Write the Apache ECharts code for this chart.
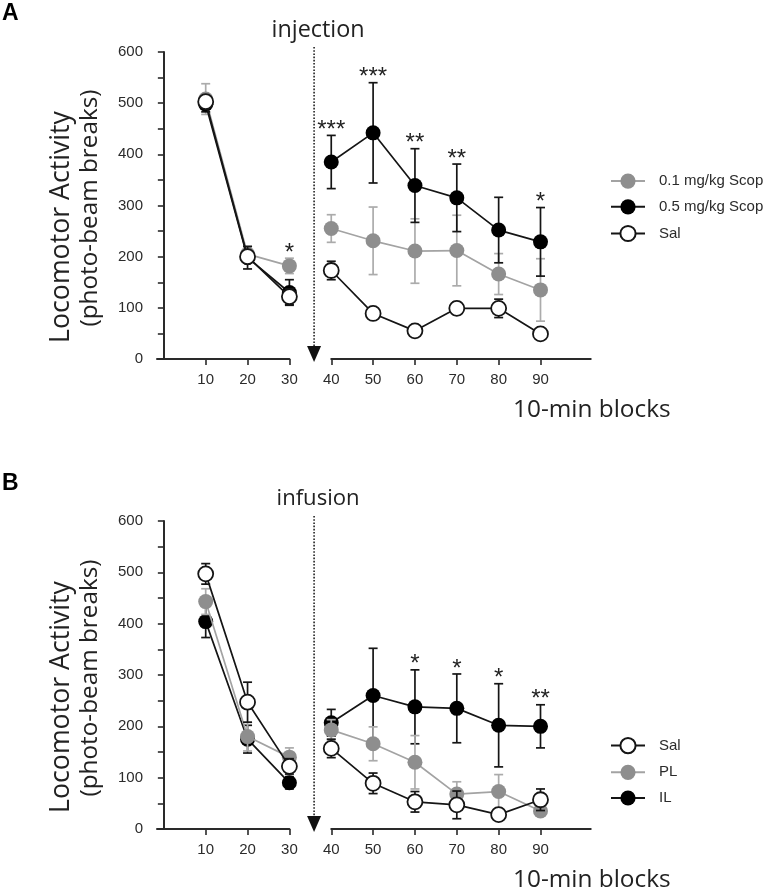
<!DOCTYPE html>
<html><head><meta charset="utf-8">
<script src="https://cdn.jsdelivr.net/npm/echarts@6/dist/echarts.min.js"></script>
<style>html,body{margin:0;padding:0;background:#fff}#c{width:780px;height:889px}</style>
</head><body><div id="c"></div>
<script>
// ---------- data ----------
const blocks = [10, 20, 30, 40, 50, 60, 70, 80, 90];
const xTicksLeft = [10, 20, 30];
const xTicksRight = [40, 50, 60, 70, 80, 90];
const yTickLabels = [0, 100, 200, 300, 400, 500, 600];
const yTickMarks = [0, 50, 100, 150, 200, 250, 300, 350, 400, 450, 500, 550, 600];

// Panel A
const scop01Mean = [508, 205, 182, 255, 231, 211, 212, 166, 135];
const scop01Err  = [30, 15, 15, 27, 66, 63, 69, 40, 61];
const scop05Mean = [498, 198, 130, 385, 442, 339, 315, 252, 229];
const scop05Err  = [15, 22, 25, 52, 98, 72, 66, 64, 67];
const salAMean   = [503, 200, 122, 173, 89, 55, 99, 99, 49];
const salAErr    = [10, 10, 15, 18, 5, 5, 12, 18, 5];
const starsA     = ['', '', '*', '***', '***', '**', '**', '', '*'];
const legendA    = ['0.1 mg/kg Scop', '0.5 mg/kg Scop', 'Sal'];

// Panel B
const salBMean = [497, 247, 122, 157, 89, 53, 47, 28, 57];
const salBErr  = [20, 39, 15, 18, 20, 20, 27, 10, 21];
const plMean   = [443, 180, 140, 193, 166, 130, 68, 73, 35];
const plErr    = [25, 28, 18, 20, 33, 52, 24, 33, 10];
const ilMean   = [404, 175, 90, 207, 260, 238, 235, 202, 200];
const ilErr    = [31, 27, 12, 26, 92, 72, 67, 81, 42];
const starsB   = ['', '', '', '', '', '*', '*', '*', '**'];
const legendB  = ['Sal', 'PL', 'IL'];

const panelLabels = ['A', 'B'];
const eventLabels = ['injection', 'infusion'];
const xAxisTitle = '10-min blocks';
const yTitle1 = 'Locomotor Activity';
const yTitle2 = '(photo-beam breaks)';

// ---------- styles ----------
const STY = {
  gray:  {line: '#a3a3a3', fill: '#8e8e8e', border: '#8e8e8e', err: '#ababab', bw: 0},
  black: {line: '#151515', fill: '#000000', border: '#000000', err: '#151515', bw: 0},
  white: {line: '#151515', fill: '#ffffff', border: '#151515', err: '#151515', bw: 1.8}
};
const AX = '#2a2a2a';
const TXT = '#2b2b2b';
const SANS = 'Liberation Sans, Arial, sans-serif';
const HUM = 'Open Sans, Noto Sans, sans-serif';

const panels = [
  {top: 52, height: 307, stars: starsA, groups: [
    {name: legendA[0], mean: scop01Mean, err: scop01Err, sty: STY.gray, z: 2},
    {name: legendA[1], mean: scop05Mean, err: scop05Err, sty: STY.black, z: 4},
    {name: legendA[2], mean: salAMean, err: salAErr, sty: STY.white, z: 6}
  ]},
  {top: 521, height: 308, stars: starsB, groups: [
    {name: legendB[2], mean: ilMean, err: ilErr, sty: STY.black, z: 2},
    {name: legendB[1], mean: plMean, err: plErr, sty: STY.gray, z: 4},
    {name: legendB[0], mean: salBMean, err: salBErr, sty: STY.white, z: 6}
  ]}
];

const LEFT_X = 157, PXU = 4.185;
const X0 = 163.85; // pixel of x=0
const leftMin = (LEFT_X - X0) / PXU, leftMax = 30;
const rightMin = 40, rightMax = 102;

const grids = [], xAxes = [], yAxes = [], series = [];

function errRender(color) {
  return function (params, api) {
    const x = api.value(0), m = api.value(1), e = api.value(2);
    const t = api.coord([x, m + e]), b = api.coord([x, m - e]);
    const hw = 4.5;
    const st = {stroke: color, lineWidth: 1.7};
    return {type: 'group', children: [
      {type: 'line', shape: {x1: t[0], y1: t[1], x2: b[0], y2: b[1]}, style: st},
      {type: 'line', shape: {x1: t[0] - hw, y1: t[1], x2: t[0] + hw, y2: t[1]}, style: st},
      {type: 'line', shape: {x1: b[0] - hw, y1: b[1], x2: b[0] + hw, y2: b[1]}, style: st}
    ]};
  };
}

panels.forEach((p, pi) => {
  const gL = pi * 2, gR = pi * 2 + 1;
  grids.push({left: LEFT_X, top: p.top, width: X0 + leftMax * PXU - LEFT_X, height: p.height});
  grids.push({left: X0 + rightMin * PXU, top: p.top, width: (rightMax - rightMin) * PXU, height: p.height});
  const xCommon = {
    type: 'value', splitLine: {show: false},
    axisLine: {show: true, onZero: false, lineStyle: {color: AX, width: 2}},
    axisLabel: {fontSize: 15, color: TXT, fontFamily: SANS, margin: 13},
    axisTick: {show: true, length: 6, lineStyle: {color: AX, width: 1.6}}
  };
  xAxes.push(Object.assign({}, xCommon, {gridIndex: gL, min: leftMin, max: leftMax,
    axisLabel: Object.assign({}, xCommon.axisLabel, {customValues: xTicksLeft}),
    axisTick: Object.assign({}, xCommon.axisTick, {customValues: xTicksLeft})}));
  xAxes.push(Object.assign({}, xCommon, {gridIndex: gR, min: rightMin, max: rightMax,
    axisLabel: Object.assign({}, xCommon.axisLabel, {customValues: xTicksRight}),
    axisTick: Object.assign({}, xCommon.axisTick, {customValues: xTicksRight})}));
  yAxes.push({gridIndex: gL, type: 'value', min: 0, max: 600, splitLine: {show: false},
    axisLine: {show: true, lineStyle: {color: AX, width: 2}},
    axisTick: {show: true, length: 6, customValues: yTickMarks, lineStyle: {color: AX, width: 1.6}},
    axisLabel: {customValues: yTickLabels, fontSize: 15, color: TXT, fontFamily: SANS, margin: 14}});
  yAxes.push({gridIndex: gR, type: 'value', min: 0, max: 600, show: false});

  const segs = [{ax: gL, idx: [0, 1, 2]}, {ax: gR, idx: [3, 4, 5, 6, 7, 8]}];
  p.groups.forEach(g => {
    segs.forEach(s => {
      series.push({
        type: 'custom', name: g.name + ' err', xAxisIndex: s.ax, yAxisIndex: s.ax, z: g.z,
        renderItem: errRender(g.sty.err), clip: false, silent: true,
        encode: {x: 0, y: 1},
        data: s.idx.map(i => [blocks[i], g.mean[i], g.err[i]])
      });
      series.push({
        type: 'line', name: g.name, xAxisIndex: s.ax, yAxisIndex: s.ax, z: g.z + 1,
        symbol: 'circle', symbolSize: 15, showSymbol: true, silent: true,
        lineStyle: {color: g.sty.line, width: 1.7},
        itemStyle: {color: g.sty.fill, borderColor: g.sty.border, borderWidth: g.sty.bw, opacity: 1},
        emphasis: {disabled: true},
        data: s.idx.map(i => [blocks[i], g.mean[i]])
      });
    });
  });

  // significance stars
  segs.forEach(s => {
    const idx = s.idx.filter(i => p.stars[i]);
    if (!idx.length) return;
    const lbls = idx.map(i => p.stars[i]);
    series.push({
      type: 'custom', name: 'stars', xAxisIndex: s.ax, yAxisIndex: s.ax, z: 10, clip: false, silent: true,
      encode: {x: 0, y: 1},
      data: idx.map(i => [blocks[i], Math.max(...p.groups.map(g => g.mean[i] + g.err[i]))]),
      renderItem: (params, api) => {
        const pt = api.coord([api.value(0), api.value(1)]);
        return {type: 'text', x: pt[0], y: pt[1] - 5,
          style: {text: lbls[params.dataIndex], fill: '#222', font: '24px ' + SANS,
                  align: 'center', verticalAlign: 'middle'}};
      }
    });
  });
});

const legendCommon = {orient: 'vertical', left: 605, itemWidth: 34, itemHeight: 19,
  selectedMode: false, textStyle: {fontSize: 15, fontFamily: SANS, color: TXT, padding: [0, 0, 0, 9]}};

const chart = echarts.init(document.getElementById('c'), null, {renderer: 'canvas'});
chart.setOption({
  animation: false,
  backgroundColor: '#fff',
  grid: grids, xAxis: xAxes, yAxis: yAxes, series: series,
  legend: [
    Object.assign({}, legendCommon, {data: legendA, top: 168.5, itemGap: 10.5}),
    Object.assign({}, legendCommon, {data: legendB, top: 732, itemGap: 10.5})
  ]
});

// ---------- annotations ----------
const ctx = document.createElement('canvas').getContext('2d');
function fit(text, family, target) {
  ctx.font = '100px ' + family;
  return 100 * target / ctx.measureText(text).width;
}
const gfx = [];
const eventWidths = [93, 83];
const nameSize1 = fit(yTitle1, HUM, 232);
const nameSize2 = fit(yTitle2, HUM, 237);
const blockSize = fit('10-min bl', HUM, 107);
panels.forEach((p, pi) => {
  const off = pi === 0 ? 0 : 470;
  const ax = chart.convertToPixel({xAxisIndex: pi * 2}, 35.9);
  const yTop = chart.convertToPixel({yAxisIndex: pi * 2}, 600) - 5;
  const yTip = chart.convertToPixel({yAxisIndex: pi * 2}, 0) + 3;
  gfx.push({type: 'line', shape: {x1: ax, y1: yTop, x2: ax, y2: yTip - 12},
    style: {stroke: '#222', lineWidth: 1.6, lineDash: [1.6, 1.6]}});
  gfx.push({type: 'polygon', shape: {points: [[ax - 7, yTip - 16], [ax + 7, yTip - 16], [ax, yTip]]},
    style: {fill: '#111'}});
  const evSize = fit(eventLabels[pi], HUM, eventWidths[pi]);
  gfx.push({type: 'text', x: ax + 4, y: yTop - 17,
    style: {text: eventLabels[pi], font: evSize.toFixed(1) + 'px ' + HUM, fill: '#222', align: 'center', verticalAlign: 'middle'}});
  gfx.push({type: 'text', x: 2, y: 14 + off,
    style: {text: panelLabels[pi], font: 'bold 23px ' + SANS, fill: '#000', align: 'left', verticalAlign: 'middle'}});
  gfx.push({type: 'text', x: 513, y: 410 + off,
    style: {text: xAxisTitle, font: blockSize.toFixed(1) + 'px ' + HUM, fill: '#222', align: 'left', verticalAlign: 'middle'}});
  gfx.push({type: 'text', x: 61, y: 227 + off, rotation: Math.PI / 2,
    style: {text: yTitle1, font: nameSize1.toFixed(1) + 'px ' + HUM, fill: '#222', align: 'center', verticalAlign: 'middle'}});
  gfx.push({type: 'text', x: 90, y: 208 + off, rotation: Math.PI / 2,
    style: {text: yTitle2, font: nameSize2.toFixed(1) + 'px ' + HUM, fill: '#222', align: 'center', verticalAlign: 'middle'}});
});
chart.setOption({graphic: gfx});
</script>
</body></html>
